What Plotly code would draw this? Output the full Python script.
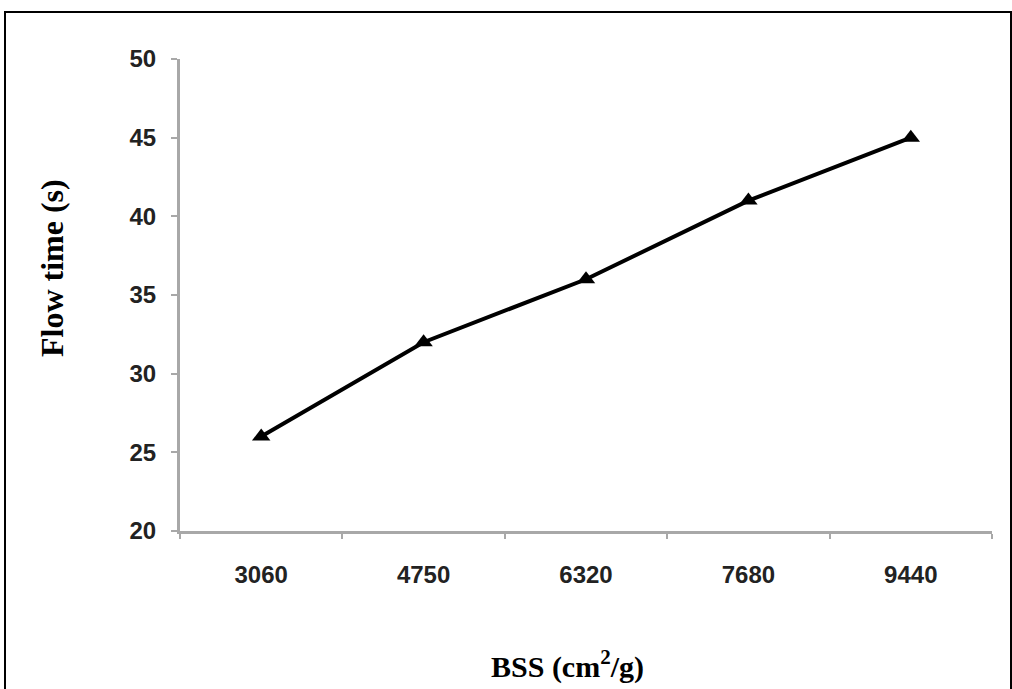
import plotly.graph_objects as go

categories = ["3060", "4750", "6320", "7680", "9440"]
flow_time = [26, 32, 36, 41, 45]
y_ticks = [20, 25, 30, 35, 40, 45, 50]

W, H = 1012, 689
L, R, T, B = 180, 20, 59, 158
pw, ph = W - L - R, H - T - B

fig = go.Figure()
fig.add_trace(go.Scatter(
    x=categories, y=flow_time, mode="lines+markers",
    line=dict(color="black", width=4),
    marker=dict(symbol="triangle-up", size=16, color="black"),
    showlegend=False,
))

tickfont = dict(family="Liberation Sans, Arial", size=24, color="#222222", weight="bold")
fig.update_layout(
    width=W, height=H,
    margin=dict(l=L, r=R, t=T, b=B),
    paper_bgcolor="white", plot_bgcolor="white",
    xaxis=dict(
        type="category", tickson="boundaries", ticks="outside", ticklen=5,
        tickcolor="#a8a8a8", tickwidth=2, showline=True, linecolor="#a8a8a8", linewidth=3,
        showgrid=False, zeroline=False, tickfont=tickfont,
        ticklabelstandoff=20,
        range=[-0.5, 4.5],
    ),
    yaxis=dict(
        range=[20, 50], tickvals=y_ticks, ticks="outside", ticklen=6,
        tickcolor="#a8a8a8", tickwidth=2, showline=True, linecolor="#a8a8a8", linewidth=3,
        showgrid=False, zeroline=False, tickfont=tickfont,
        ticklabelstandoff=10,
    ),
)

# axis titles
fig.add_annotation(
    x=(567 - L) / pw, y=(H - 664 - B) / ph, xref="paper", yref="paper",
    xanchor="center", yanchor="middle",
    text="<b>BSS (cm<sup>2</sup>/g)</b>", showarrow=False,
    font=dict(family="Liberation Serif, Times New Roman", size=30, color="black"),
)
fig.add_annotation(
    x=(52 - L) / pw, y=(H - 268 - B) / ph, xref="paper", yref="paper",
    xanchor="center", yanchor="middle",
    text="<b>Flow time (s)</b>", showarrow=False, textangle=-90,
    font=dict(family="Liberation Serif, Times New Roman", size=32, color="black"),
)

# outer frame
fig.add_shape(
    type="rect", xref="paper", yref="paper",
    x0=(5 - L) / pw, x1=(1011 - L) / pw,
    y0=(H - 700 - B) / ph, y1=(H - 12 - B) / ph,
    line=dict(color="black", width=2), fillcolor="rgba(0,0,0,0)",
)

fig.write_html("out.html", config={"displayModeBar": False},
               post_script="document.body.style.margin='0px';")
